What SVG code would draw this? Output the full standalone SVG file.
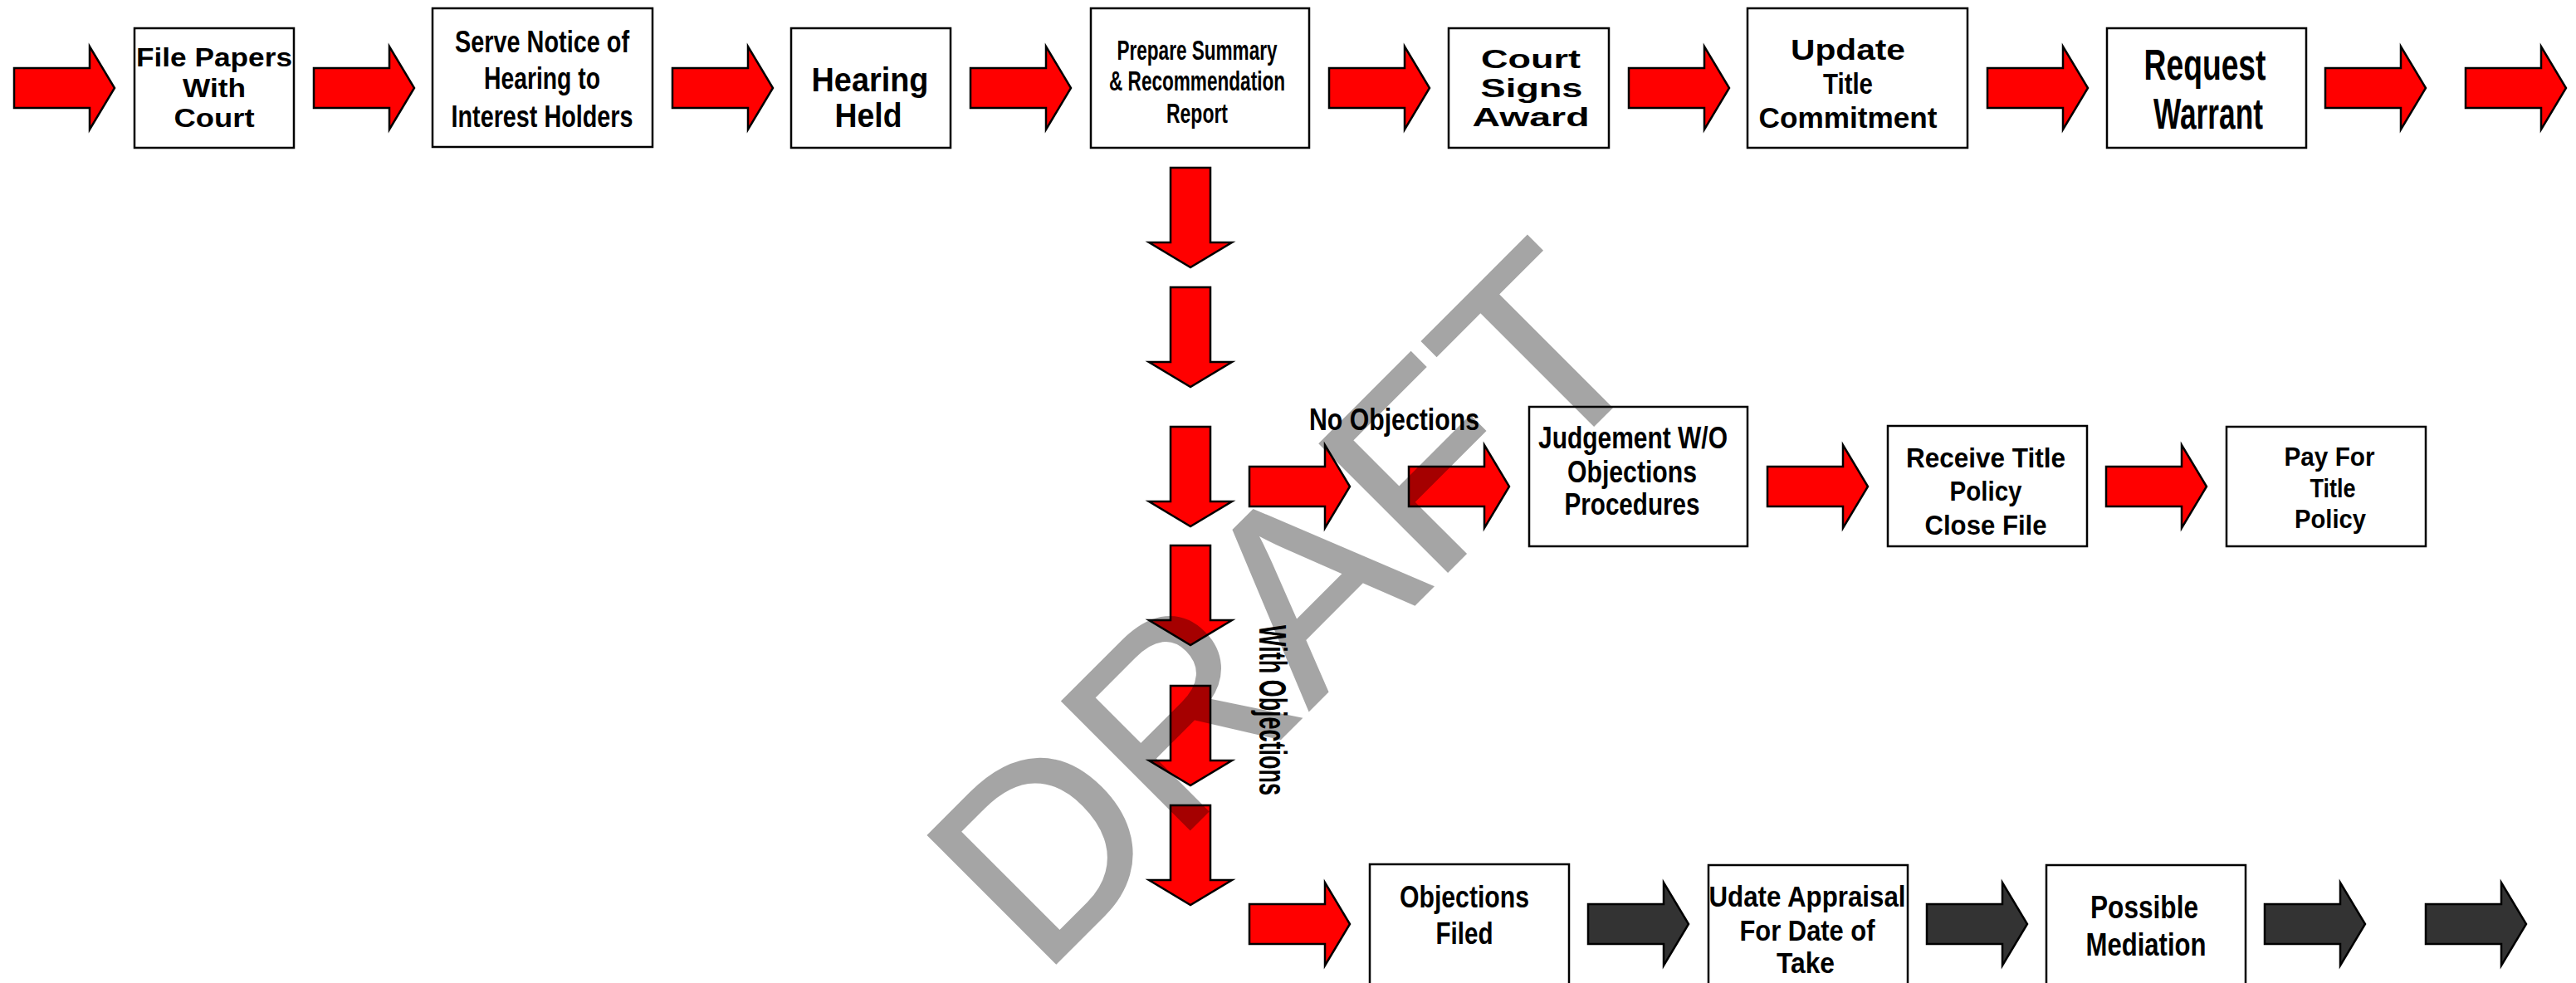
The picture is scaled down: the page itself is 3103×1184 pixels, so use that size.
<svg xmlns="http://www.w3.org/2000/svg" xmlns:xlink="http://www.w3.org/1999/xlink" width="3103" height="1184" viewBox="0 0 3103 1184">
<style>
.bx{fill:#fff;stroke:#000;stroke-width:2.5}
.red{fill:#ff0000;stroke:#000;stroke-width:2.5;stroke-linejoin:miter}
.dark{fill:#333333;stroke:#000;stroke-width:2.5;stroke-linejoin:miter}
.t{font-family:"Liberation Sans",Arial,sans-serif;font-weight:bold;fill:#000;text-anchor:middle}
.lab{font-family:"Liberation Sans",Arial,sans-serif;font-weight:bold;fill:#000}
.wm{font-family:"Liberation Sans",Arial,sans-serif;font-weight:normal;fill:#000;stroke:#000;stroke-width:3}
</style>
<defs>
<path id="ar" d="M0,-24 H91 V-50 L121,0 L91,50 V24 H0 Z"/>
<path id="ad" d="M-24,0 V90 H-50 L0,120 L50,90 H24 V0 Z"/>
</defs>
<rect width="3103" height="1184" fill="#fff"/>
<g id="connectors">
<use xlink:href="#ar" class="red" x="17" y="106"/>
<use xlink:href="#ar" class="red" x="378" y="106"/>
<use xlink:href="#ar" class="red" x="810" y="106"/>
<use xlink:href="#ar" class="red" x="1169" y="106"/>
<use xlink:href="#ar" class="red" x="1601" y="106"/>
<use xlink:href="#ar" class="red" x="1962" y="106"/>
<use xlink:href="#ar" class="red" x="2394" y="106"/>
<use xlink:href="#ar" class="red" x="2801" y="106"/>
<use xlink:href="#ar" class="red" x="2970" y="106"/>
<use xlink:href="#ad" class="red" x="1434" y="202"/>
<use xlink:href="#ad" class="red" x="1434" y="346"/>
<use xlink:href="#ad" class="red" x="1434" y="514"/>
<use xlink:href="#ad" class="red" x="1434" y="657"/>
<use xlink:href="#ad" class="red" x="1434" y="826"/>
<use xlink:href="#ad" class="red" x="1434" y="970"/>
<use xlink:href="#ar" class="red" x="1505" y="586"/>
<use xlink:href="#ar" class="red" x="1697" y="586"/>
<use xlink:href="#ar" class="red" x="2129" y="586"/>
<use xlink:href="#ar" class="red" x="2537" y="586"/>
<use xlink:href="#ar" class="red" x="1505" y="1113"/>
<use xlink:href="#ar" class="dark" x="1913" y="1113"/>
<use xlink:href="#ar" class="dark" x="2321" y="1113"/>
<use xlink:href="#ar" class="dark" x="2728" y="1113"/>
<use xlink:href="#ar" class="dark" x="2922" y="1113"/>
<text class="lab" x="1577" y="518" font-size="37" textLength="205" lengthAdjust="spacingAndGlyphs">No Objections</text>
<text class="lab" transform="translate(1517,753) rotate(90)" x="0" y="0" font-size="47" textLength="205" lengthAdjust="spacingAndGlyphs">With Objections</text>
</g>
<g id="n-file-papers">
<rect class="bx" x="162" y="34" width="192" height="144"/>
<text class="t" x="258" y="80" font-size="32" textLength="188" lengthAdjust="spacingAndGlyphs">File Papers</text>
<text class="t" x="258" y="117" font-size="32" textLength="76" lengthAdjust="spacingAndGlyphs">With</text>
<text class="t" x="258" y="153" font-size="32" textLength="97" lengthAdjust="spacingAndGlyphs">Court</text>
</g>
<g id="n-serve-notice">
<rect class="bx" x="521" y="10" width="265" height="167"/>
<text class="t" x="653" y="63" font-size="36" textLength="210" lengthAdjust="spacingAndGlyphs">Serve Notice of</text>
<text class="t" x="653" y="107" font-size="36" textLength="140" lengthAdjust="spacingAndGlyphs">Hearing to</text>
<text class="t" x="653" y="153" font-size="36" textLength="219" lengthAdjust="spacingAndGlyphs">Interest Holders</text>
</g>
<g id="n-hearing-held">
<rect class="bx" x="953" y="34" width="192" height="144"/>
<text class="t" x="1048" y="110" font-size="40" textLength="141" lengthAdjust="spacingAndGlyphs">Hearing</text>
<text class="t" x="1046" y="153" font-size="40" textLength="81" lengthAdjust="spacingAndGlyphs">Held</text>
</g>
<g id="n-prepare-summary">
<rect class="bx" x="1314" y="10" width="263" height="168"/>
<text class="t" x="1442" y="72" font-size="33" textLength="193" lengthAdjust="spacingAndGlyphs">Prepare Summary</text>
<text class="t" x="1442" y="109" font-size="33" textLength="212" lengthAdjust="spacingAndGlyphs">&amp; Recommendation</text>
<text class="t" x="1442" y="148" font-size="33" textLength="74" lengthAdjust="spacingAndGlyphs">Report</text>
</g>
<g id="n-court-signs">
<rect class="bx" x="1745" y="34" width="193" height="144"/>
<text class="t" x="1844" y="82" font-size="31" textLength="120" lengthAdjust="spacingAndGlyphs">Court</text>
<text class="t" x="1845" y="117" font-size="31" textLength="123" lengthAdjust="spacingAndGlyphs">Signs</text>
<text class="t" x="1844" y="152" font-size="31" textLength="141" lengthAdjust="spacingAndGlyphs">Award</text>
</g>
<g id="n-update-title">
<rect class="bx" x="2105" y="10" width="265" height="168"/>
<text class="t" x="2226" y="72" font-size="35" textLength="138" lengthAdjust="spacingAndGlyphs">Update</text>
<text class="t" x="2226" y="113" font-size="35" textLength="60" lengthAdjust="spacingAndGlyphs">Title</text>
<text class="t" x="2226" y="154" font-size="35" textLength="215" lengthAdjust="spacingAndGlyphs">Commitment</text>
</g>
<g id="n-request-warrant">
<rect class="bx" x="2538" y="34" width="240" height="144"/>
<text class="t" x="2656" y="96" font-size="51" textLength="147" lengthAdjust="spacingAndGlyphs">Request</text>
<text class="t" x="2660" y="155" font-size="51" textLength="132" lengthAdjust="spacingAndGlyphs">Warrant</text>
</g>
<g id="n-judgement">
<rect class="bx" x="1842" y="490" width="263" height="168"/>
<text class="t" x="1967" y="540" font-size="37" textLength="228" lengthAdjust="spacingAndGlyphs">Judgement W/O</text>
<text class="t" x="1966" y="581" font-size="37" textLength="156" lengthAdjust="spacingAndGlyphs">Objections</text>
<text class="t" x="1966" y="620" font-size="37" textLength="163" lengthAdjust="spacingAndGlyphs">Procedures</text>
</g>
<g id="n-receive-title">
<rect class="bx" x="2274" y="513" width="240" height="145"/>
<text class="t" x="2392" y="563" font-size="34" textLength="192" lengthAdjust="spacingAndGlyphs">Receive Title</text>
<text class="t" x="2392" y="603" font-size="34" textLength="87" lengthAdjust="spacingAndGlyphs">Policy</text>
<text class="t" x="2392" y="644" font-size="34" textLength="147" lengthAdjust="spacingAndGlyphs">Close File</text>
</g>
<g id="n-pay-title">
<rect class="bx" x="2682" y="514" width="240" height="144"/>
<text class="t" x="2806" y="561" font-size="32" textLength="109" lengthAdjust="spacingAndGlyphs">Pay For</text>
<text class="t" x="2810" y="599" font-size="32" textLength="55" lengthAdjust="spacingAndGlyphs">Title</text>
<text class="t" x="2807" y="636" font-size="32" textLength="86" lengthAdjust="spacingAndGlyphs">Policy</text>
</g>
<g id="n-objections-filed">
<rect class="bx" x="1650" y="1041" width="240" height="220"/>
<text class="t" x="1764" y="1093" font-size="36" textLength="156" lengthAdjust="spacingAndGlyphs">Objections</text>
<text class="t" x="1764" y="1137" font-size="36" textLength="69" lengthAdjust="spacingAndGlyphs">Filed</text>
</g>
<g id="n-update-appraisal">
<rect class="bx" x="2058" y="1042" width="240" height="220"/>
<text class="t" x="2177" y="1092" font-size="35" textLength="237" lengthAdjust="spacingAndGlyphs">Udate Appraisal</text>
<text class="t" x="2177" y="1133" font-size="35" textLength="163" lengthAdjust="spacingAndGlyphs">For Date of</text>
<text class="t" x="2175" y="1172" font-size="35" textLength="70" lengthAdjust="spacingAndGlyphs">Take</text>
</g>
<g id="n-possible-mediation">
<rect class="bx" x="2465" y="1042" width="240" height="220"/>
<text class="t" x="2583" y="1106" font-size="39" textLength="130" lengthAdjust="spacingAndGlyphs">Possible</text>
<text class="t" x="2585" y="1151" font-size="39" textLength="145" lengthAdjust="spacingAndGlyphs">Mediation</text>
</g>
<g opacity="0.35">
<text class="wm" x="1254" y="1178" transform="rotate(-45 1254 1178)" font-size="316">DRAFT</text>
</g>
</svg>
